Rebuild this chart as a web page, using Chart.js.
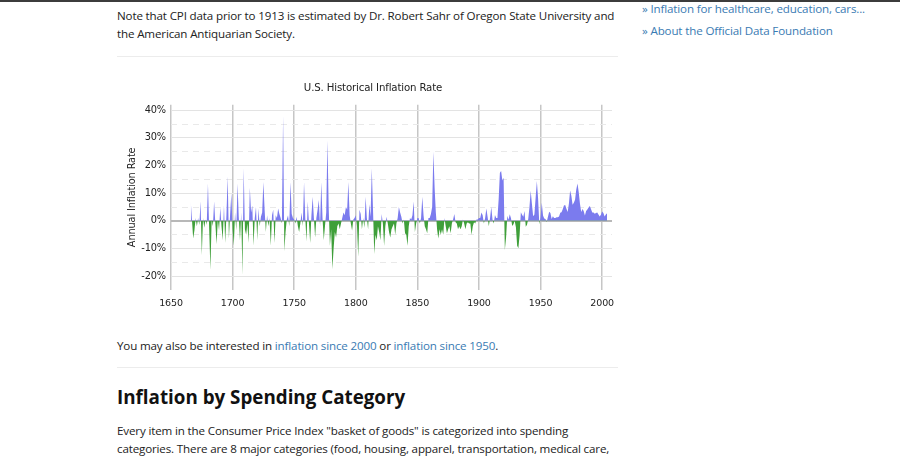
<!DOCTYPE html>
<html>
<head>
<meta charset="utf-8">
<script src="https://cdn.jsdelivr.net/npm/chart.js@4"></script>
<style>
  html, body { margin: 0; padding: 0; background: #fff; }
  body { width: 900px; height: 462px; position: relative; overflow: hidden;
         font-family: "Open Sans", sans-serif; font-size: 11.6px; letter-spacing: -0.15px; color: #222; }
  .topbar { position: absolute; left: 0; top: 0; width: 900px; height: 2px; background: #3c3c3c; }
  .txt { position: absolute; left: 117px; line-height: 18px; white-space: nowrap; }
  .side { position: absolute; left: 642px; line-height: 18px; white-space: nowrap; color: #3a7bb3; }
  .rule { position: absolute; left: 117px; width: 501px; height: 1px; background: #ececec; }
  a { color: #3a7bb3; text-decoration: none; }
  h2 { position: absolute; left: 117px; top: 385px; margin: 0; font-size: 18.8px; line-height: 24px;
       font-weight: 700; letter-spacing: 0; color: #111; white-space: nowrap; }
  #wrap { position: absolute; left: 110px; top: 70px; width: 526px; height: 250px; }
</style>
</head>
<body>
<div class="topbar"></div>
<div class="txt" style="top:7px">Note that CPI data prior to 1913 is estimated by Dr. Robert Sahr of Oregon State University and<br>the American Antiquarian Society.</div>
<div class="side" style="top:0px">» Inflation for healthcare, education, cars...</div>
<div class="side" style="top:22px">» About the Official Data Foundation</div>
<div class="rule" style="top:56px"></div>

<div id="wrap"><canvas id="chart" width="526" height="250"></canvas></div>

<div class="txt" style="top:337px">You may also be interested in <a href="#">inflation since 2000</a> or <a href="#">inflation since 1950</a>.</div>
<div class="rule" style="top:367px"></div>
<h2>Inflation by Spending Category</h2>
<div class="txt" style="top:422px">Every item in the Consumer Price Index "basket of goods" is categorized into spending<br>categories. There are 8 major categories (food, housing, apparel, transportation, medical care,</div>

<script>
// annual inflation rate in %, one value per year starting at firstYear
const firstYear = 1666;
const inflationRate = [
  7.2, 0.5, -6.4, -3.5,                                          // 1666-1669
  1.0, -2.0, 1.0, -1.5, 7.1, -12.4, 1.0, -2.5, 0.5, -1.5,        // 1670s
  13.5, -3.0, -17.8, 0.5, -2.0, 7.0, -1.0, -8.5, 0.5, -3.5,      // 1680s
  4.8, -2.0, -7.0, 5.5, -8.0, 2.0, 16.0, -6.4, 2.5, 10.0,        // 1690s
  -3.0, -9.0, 3.0, -3.5, 13.5, 1.5, -7.0, 3.0, -19.6, 19.0,      // 1700s
  -3.0, -5.0, -1.0, -8.0, 12.0, 3.0, 5.5, -9.0, 1.0, 5.0,        // 1710s
  -7.0, 4.5, -2.0, 1.5, 3.0, 14.0, 4.0, -4.0, 2.0, -2.0,         // 1720s
  1.0, -9.0, 2.0, 4.0, -8.0, 2.0, 1.0, 4.5, 2.5, 1.0,            // 1730s
  -1.0, 38.0, -11.0, -4.0, 0.5, 2.0, -2.0, 14.0, 2.5, 1.0,       // 1740s
  0.5, -1.0, 1.5, -2.0, -4.0, -1.0, 3.0, -2.0, 14.0, 1.0,        // 1750s
  -7.5, 7.0, -1.0, -8.0, 2.0, 8.7, 1.0, -6.0, 1.0, 4.0,          // 1760s
  7.5, -2.0, 14.0, 1.0, -7.0, -2.0, 3.0, 29.0, 5.0, -9.0,        // 1770s
  -3.0, -17.5, -10.0, -4.0, -6.0, -2.0, -1.0, -3.0, -1.0, 1.0,   // 1780s
  3.0, 2.0, 5.0, 4.0, 14.0, 2.0, -1.0, -3.5, 0.5, 1.0,           // 1790s
  2.0, -2.0, -13.0, 4.0, 2.5, -3.0, 1.0, -2.5, 8.7, 1.0,         // 1800s
  -3.0, 6.0, 1.5, 19.0, 4.0, -12.0, -5.0, -7.0, -2.0, -4.0,      // 1810s
  -7.0, 2.5, -1.0, -9.0, -2.0, 1.5, -1.0, -4.0, -6.0, -3.0,      // 1820s
  -2.0, -1.0, -5.0, -1.0, 1.0, 5.0, 3.0, 1.5, -1.0, 0.5,         // 1830s
  -4.5, -5.0, -9.0, -2.0, 1.0, 0.5, 2.0, 7.0, -4.0, -1.0,        // 1840s
  1.0, 1.0, -1.0, 1.0, 8.7, 2.0, -2.0, -3.0, -4.5, 1.0,          // 1850s
  1.0, 2.5, 5.0, 25.0, 12.0, 3.0, -3.0, -6.4, -3.0, -5.0,        // 1860s
  -3.0, -5.0, 1.0, -2.0, -4.5, -3.0, -2.0, -4.5, -1.0, 0.5,      // 1870s
  2.5, -0.5, -1.0, -3.0, -2.0, -3.0, -2.0, 0.5, -1.0, -3.0,      // 1880s
  -1.0, -0.5, -1.0, -1.0, -5.0, -2.0, -0.5, -1.0, 0.5, 0.5,      // 1890s
  1.0, 1.0, 3.0, 2.0, -1.0, 1.0, 4.5, 1.5, -2.0, 1.0,            // 1900s
  5.0, 0.5, -1.0, 2.1, 1.0, 1.0, 7.9, 17.4, 18.0, 14.6,          // 1910s
  15.6, -10.5, -6.1, 1.8, 0.4, 2.4, 0.9, -1.9, -1.2, 0.0,        // 1920s
  -2.3, -9.0, -9.9, -5.1, 3.1, 2.2, 1.5, 3.6, -2.1, -1.4,        // 1930s
  0.7, 5.0, 10.9, 6.1, 1.7, 2.3, 8.3, 14.4, 8.1, -1.2,           // 1940s
  1.3, 6.5, 1.9, 0.8, 0.7, -0.4, 1.5, 3.3, 2.8, 0.7,             // 1950s
  1.7, 1.0, 1.0, 1.3, 1.3, 1.6, 2.9, 3.1, 4.2, 5.5,              // 1960s
  5.7, 4.4, 3.2, 6.2, 11.0, 9.1, 5.8, 6.5, 7.6, 11.3,            // 1970s
  13.5, 10.3, 6.2, 3.2, 4.3, 3.6, 1.9, 3.6, 4.1, 4.8,            // 1980s
  5.4, 4.2, 3.0, 3.0, 2.6, 2.8, 3.0, 2.3, 1.6, 2.2,              // 1990s
  3.4, 2.8, 1.6, 2.3, 2.7                                        // 2000-2004
];
const years = inflationRate.map((_, i) => firstYear + i);

// axis ticks: labelled years, and 5% steps (labels on the 10% ones)
const yearTicks = [1650, 1700, 1750, 1800, 1850, 1900, 1950, 2000];
const rateTicks = [-20, -15, -10, -5, 0, 5, 10, 15, 20, 25, 30, 35, 40];

const chartFont = "'DejaVu Sans', Verdana, sans-serif";

new Chart(document.getElementById("chart"), {
  type: "line",
  data: {
    datasets: [{
      data: years.map((yr, i) => ({ x: yr, y: inflationRate[i] })),
      borderWidth: 0,
      borderColor: "transparent",
      pointRadius: 0,
      tension: 0,
      fill: { target: "origin", above: "#7b7bee", below: "#3f9f3a" }
    }]
  },
  options: {
    responsive: false,
    animation: false,
    layout: { padding: 0 },
    plugins: {
      legend: { display: false },
      tooltip: { enabled: false },
      title: {
        display: true,
        text: "U.S. Historical Inflation Rate",
        color: "#222",
        font: { family: chartFont, size: 10.2, weight: "normal" },
        padding: { top: 12, bottom: 10.4 }
      }
    },
    scales: {
      x: {
        type: "linear",
        min: 1650,
        max: 2008,
        border: { display: false },
        afterBuildTicks: (s) => { s.ticks = yearTicks.map((v) => ({ value: v })); },
        grid: {
          drawTicks: false,
          lineWidth: 1.5,
          color: "#c6c6c6"
        },
        ticks: {
          autoSkip: false,
          maxRotation: 0,
          padding: 8,
          color: "#222",
          font: { family: chartFont, size: 9.5 },
          callback: (v) => String(v)
        },
        afterFit: (s) => { s.height = 30; }
      },
      y: {
        min: -25,
        max: 42,
        afterBuildTicks: (s) => { s.ticks = rateTicks.map((v) => ({ value: v })); },
        border: {
          display: false,
          dash: (c) => (c.tick && c.tick.value % 10 !== 0 ? [6, 5] : [])
        },
        grid: {
          drawTicks: false,
          lineWidth: (c) => (c.tick && c.tick.value === 0 ? 2 : 1),
          color: (c) => {
            if (!c.tick) return "transparent";
            const v = c.tick.value;
            if (v === 0) return "#b8b8b8";
            return v % 10 === 0 ? "#e3e3e3" : "#e9e9e9";
          }
        },
        ticks: {
          autoSkip: false,
          padding: 5,
          color: "#222",
          font: { family: chartFont, size: 9.8 },
          callback: (v) => (v % 10 === 0 ? v + "%" : "")
        },
        title: {
          display: true,
          text: "Annual Inflation Rate",
          color: "#222",
          font: { family: chartFont, size: 9.8 },
          padding: { top: 17, bottom: 0 }
        },
        afterFit: (s) => { s.width = 61; }
      },
      // empty right-hand axis, only keeps space on the right of the plot
      spacer: {
        position: "right",
        display: true,
        grid: { display: false },
        border: { display: false },
        ticks: { display: false },
        afterFit: (s) => { s.width = 24; }
      }
    }
  }
});
</script>
</body>
</html>
